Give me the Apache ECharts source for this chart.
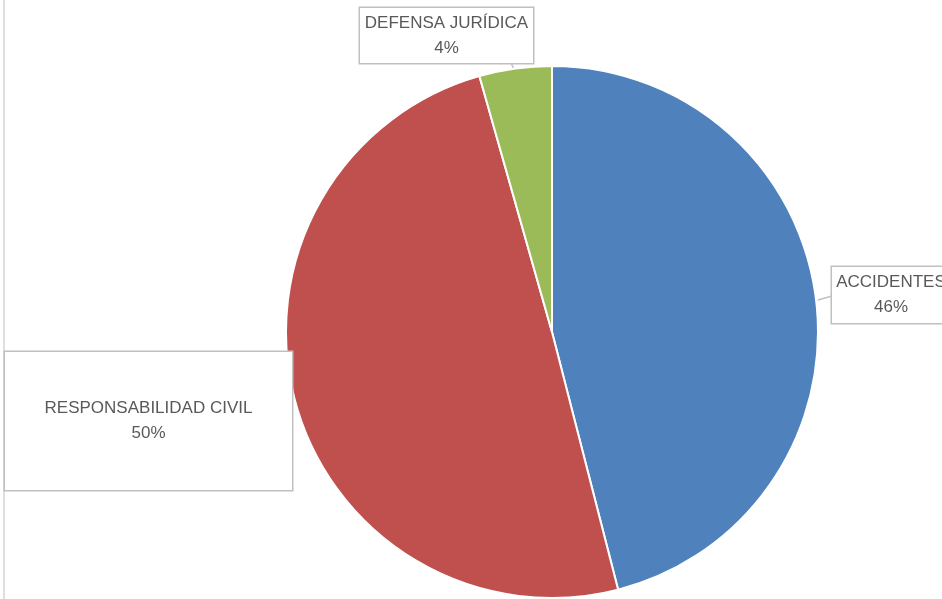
<!DOCTYPE html>
<html>
<head>
<meta charset="utf-8">
<script src="https://cdn.jsdelivr.net/npm/echarts@6/dist/echarts.min.js"></script>
<style>html,body{margin:0;padding:0;background:#fff;}#c{width:942px;height:599px;}</style>
</head>
<body>
<div id="c"></div>
<script>
const categories = ['ACCIDENTES', 'RESPONSABILIDAD CIVIL', 'DEFENSA JURÍDICA'];
const values = [46.0, 49.6, 4.4];
const colors = ['#4F81BD', '#C0504D', '#9BBB59'];

// label box layout (style only)
const boxes = [
  { cx: 891, cy: 295, w: 118, h: 56, tail: [[818, 300], [832, 296]] },
  { cx: 148.5, cy: 421, w: 287, h: 138, tail: null },
  { cx: 446.5, cy: 35.5, w: 173, h: 55, tail: [[514, 69], [511, 63]] }
];

const chart = echarts.init(document.getElementById('c'), null, { renderer: 'canvas' });
chart.setOption({
  animation: false,
  backgroundColor: '#ffffff',
  graphic: [{
    type: 'line', shape: { x1: 4, y1: 0, x2: 4, y2: 599 },
    style: { stroke: '#d4d4d4', lineWidth: 1.5 }, z: 0
  }],
  series: [{
    type: 'pie',
    center: [552, 332],
    radius: 266,
    startAngle: 90,
    clockwise: true,
    avoidLabelOverlap: false,
    itemStyle: { borderColor: '#ffffff', borderWidth: 2 },
    data: categories.map((c, i) => {
      const b = boxes[i];
      return {
        name: c, value: values[i],
        itemStyle: { color: colors[i] },
        label: {
          width: b.w,
          padding: [(b.h - 50) / 2, 0],
        },
        labelLine: { show: !!b.tail }
      };
    }),
    label: {
      show: true,
      position: 'outside',
      formatter: p => p.name + '\n' + Math.round(p.percent) + '%',
      fontFamily: 'Liberation Sans',
      fontSize: 17,
      color: '#595959',
      lineHeight: 25,
      align: 'center',
      backgroundColor: '#ffffff',
      borderColor: '#c0c0c0',
      borderWidth: 1.5
    },
    labelLine: { show: true, lineStyle: { color: '#c0c0c0', width: 1.5 } },
    labelLayout: function (params) {
      const b = boxes[params.dataIndex];
      const o = { x: b.cx, y: b.cy, align: 'center', verticalAlign: 'middle' };
      if (b.tail) o.labelLinePoints = [b.tail[0], b.tail[1], b.tail[1]];
      return o;
    }
  }]
});
</script>
</body>
</html>
